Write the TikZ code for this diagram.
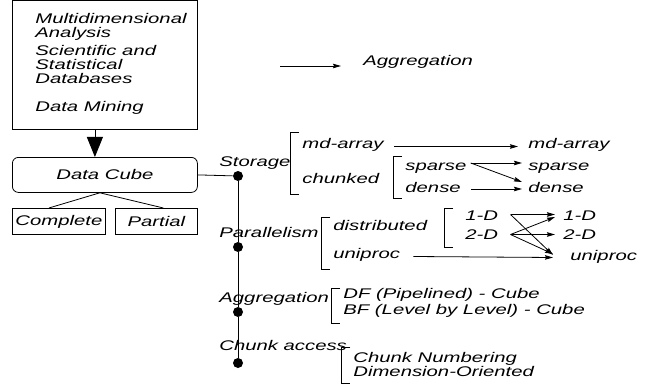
\documentclass[tikz,border=0pt]{standalone}
\usepackage{fontspec}
\setmainfont[FakeStretch=1.45]{Liberation Sans}
\usetikzlibrary{arrows.meta}
\newcommand{\brk}[3]{\draw (#1+9,#2) -| (#1,#3) -- (#1+9,#3);}
\begin{document}
\begin{tikzpicture}[x=1pt,y=-1pt,line width=0.8pt,>={Stealth[length=8pt,width=4.5pt,inset=1pt]},
  every node/.style={font=\fontsize{14}{14}\selectfont\itshape},
  txt/.style={anchor=base west, inner sep=0pt},
  dot/.style={circle, fill, inner sep=0pt, minimum size=10pt}]
\useasboundingbox (0,0) rectangle (645,385);
\node[draw, anchor=north west, minimum width=185pt, minimum height=129pt] (apps) at (12,0.5) {};
\node[txt, anchor=north west, align=left] (apptext) at (35,13) {Multidimensional\\Analysis\\[4pt]Scientific and\\Statistical\\Databases\\[14pt]Data Mining};
\node[draw, rounded corners=6pt, anchor=north west, minimum width=185pt, minimum height=35pt] (cube) at (12,157) {Data Cube};
\node[draw, anchor=north west, minimum width=93pt, minimum height=26pt, inner sep=0pt] (complete) at (12,208) {Complete};
\node[draw, anchor=north west, minimum width=82pt, minimum height=26pt, inner sep=0pt] (partial) at (115,208) {Partial};
\draw[-{Triangle[length=20pt,width=16pt]}] ([xshift=-10pt]apps.south) -- ([xshift=-10pt]cube.north);
\draw ([xshift=-5pt]cube.south) -- ([xshift=-10pt]complete.north);
\draw ([xshift=-5pt]cube.south) -- ([xshift=7pt]partial.north);

\node[dot] (d1) at (238,176) {};
\node[dot] (d2) at (238,247) {};
\node[dot] (d3) at (238,312) {};
\node[dot] (d4) at (238,363) {};
\draw (cube.east) -- (d1);
\draw[line width=1pt] (d1) -- (d2) -- (d3) -- (d4);

\node[txt] (storage) at (219,167) {Storage};
\node[txt] (parallel) at (219,237) {Parallelism};
\node[txt] (aggr) at (219,302) {Aggregation};
\node[txt] (chunk) at (219,350) {Chunk access};

\brk{290}{132}{194}
\node[txt] (mdL) at (302,149) {md-array};
\node[txt] (chunked) at (302,183) {chunked};
\brk{393}{156}{198}
\node[txt] (sparseL) at (405,170) {sparse};
\node[txt] (denseL) at (405,192) {dense};
\node[txt] (mdR) at (528,149) {md-array};
\node[txt] (sparseR) at (528,170) {sparse};
\node[txt] (denseR) at (528,192) {dense};
\draw[->] ([xshift=10pt,yshift=2.5pt]mdL.base east) -- ([xshift=-10pt,yshift=2.5pt]mdR.base west);
\draw[->] ([xshift=4pt,yshift=7pt]sparseL.base east) -- ([xshift=-6pt,yshift=7pt]sparseR.base west);
\draw[->] ([xshift=4pt,yshift=7pt]sparseL.base east) -- ([xshift=-6pt,yshift=10pt]denseR.base west);
\draw[->] ([xshift=10pt,yshift=3pt]denseL.base east) -- ([xshift=-6pt,yshift=3pt]denseR.base west);

\brk{321}{217}{269}
\node[txt] (distributed) at (333,230) {distributed};
\node[txt] (uniprocL) at (333,258) {uniproc};
\brk{444}{208}{247}
\node[txt] (oneL) at (465,220) {1-D};
\node[txt] (twoL) at (465,239) {2-D};
\node[txt] (oneR) at (563,220) {1-D};
\node[txt] (twoR) at (563,239) {2-D};
\node[txt] (uniprocR) at (570,260) {uniproc};
\draw[->] ([xshift=12pt,yshift=5.5pt]oneL.base east) -- ([xshift=-8pt,yshift=5.5pt]oneR.base west);
\draw[->] ([xshift=12pt,yshift=5.5pt]oneL.base east) -- ([xshift=-17pt,yshift=5pt]uniprocR.base west);
\draw[->] ([xshift=12pt,yshift=4.5pt]twoL.base east) -- ([xshift=-8pt,yshift=3pt]oneR.base west);
\draw[->] ([xshift=12pt,yshift=4.5pt]twoL.base east) -- ([xshift=-8pt,yshift=4.5pt]twoR.base west);
\draw[->] ([xshift=12pt,yshift=4.5pt]twoL.base east) -- ([xshift=-17pt,yshift=6pt]uniprocR.base west);
\draw[->] ([xshift=13pt,yshift=1.5pt]uniprocL.base east) -- ([xshift=-17pt,yshift=2.5pt]uniprocR.base west);

\brk{331}{288}{323}
\node[txt] (df) at (343,298) {DF (Pipelined) - Cube};
\node[txt] (bf) at (343,314) {BF (Level by Level) - Cube};
\brk{341}{347}{383}
\node[txt] (numbering) at (353,362) {Chunk Numbering};
\node[txt] (dimension) at (353,376) {Dimension-Oriented};

\node[txt] (legend) at (363,66) {Aggregation};
\coordinate (legstart) at (280,66);
\draw[->] (legstart) -- ([xshift=-22pt]legend.base west);
\end{tikzpicture}
\end{document}
